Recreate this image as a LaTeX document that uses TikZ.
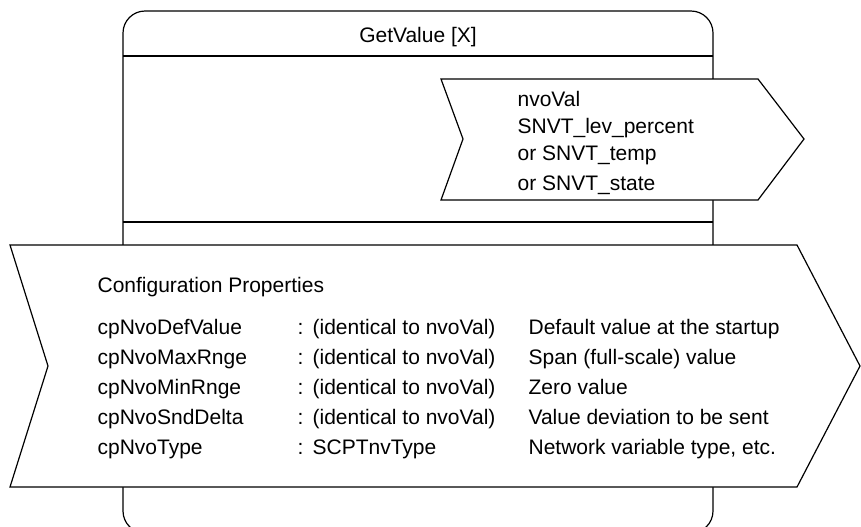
\documentclass[tikz,border=0pt]{standalone}
\usepackage{fontspec}
\setmainfont{Liberation Sans}
\usepackage{xcolor}

\begin{document}
\begin{tikzpicture} [x=0.5pt,y=-0.5pt,line width=0.6pt,
		txt/.style={anchor=base west,inner sep=0pt,font=\fontsize{10.5}{12}\selectfont}]
				\useasboundingbox (0,0) rectangle (861,526);
				% function block
				\draw [black,rounded corners=11pt] (123,533) rectangle (713,11);
				\draw [black](123,56)--(713,56);
				\draw [black](123,222)--(713,222);
				\node [txt,anchor=base] (title) at (418,42) {GetValue [X]};
				% output variable
				\filldraw [black,fill=white] (441,79)--(758,79)--(804,139)--(758,200)--(441,200)--(463,139)--cycle;
				\node [txt] (nvoval) at (517,106) {nvoVal};
				\node [txt] (levpct) at (517,133) {SNVT\_lev\_percent};
				\node [txt] (temp) at (517,160) {or SNVT\_temp};
				\node [txt] (state) at (517,190) {or SNVT\_state};
				% configuration properties
				\filldraw [black,fill=white] (10,245)--(797,245)--(860,366)--(797,487)--(10,487)--(48,366)--cycle;
				\node [txt] (cfg) at (97,292) {Configuration Properties};
				\node [txt] (defval) at (97,334) {cpNvoDefValue};
				\node [txt] (maxrng) at (97,364) {cpNvoMaxRnge};
				\node [txt] (minrng) at (97,394) {cpNvoMinRnge};
				\node [txt] (snddel) at (97,424) {cpNvoSndDelta};
				\node [txt] (nvtype) at (97,454) {cpNvoType};
				\node [txt] (defvalc) at (297,334) {:};
				\node [txt] (maxrngc) at (297,364) {:};
				\node [txt] (minrngc) at (297,394) {:};
				\node [txt] (snddelc) at (297,424) {:};
				\node [txt] (nvtypec) at (297,454) {:};
				\node [txt] (defvalt) at (312,334) {(identical to nvoVal)};
				\node [txt] (maxrngt) at (312,364) {(identical to nvoVal)};
				\node [txt] (minrngt) at (312,394) {(identical to nvoVal)};
				\node [txt] (snddelt) at (312,424) {(identical to nvoVal)};
				\node [txt] (nvtypet) at (312,454) {SCPTnvType};
				\node [txt] (defvald) at (528,334) {Default value at the startup};
				\node [txt] (maxrngd) at (528,364) {Span (full-scale) value};
				\node [txt] (minrngd) at (528,394) {Zero value};
				\node [txt] (snddeld) at (528,424) {Value deviation to be sent};
				\node [txt] (nvtyped) at (528,454) {Network variable type, etc.};
			\end{tikzpicture}
\end{document}
